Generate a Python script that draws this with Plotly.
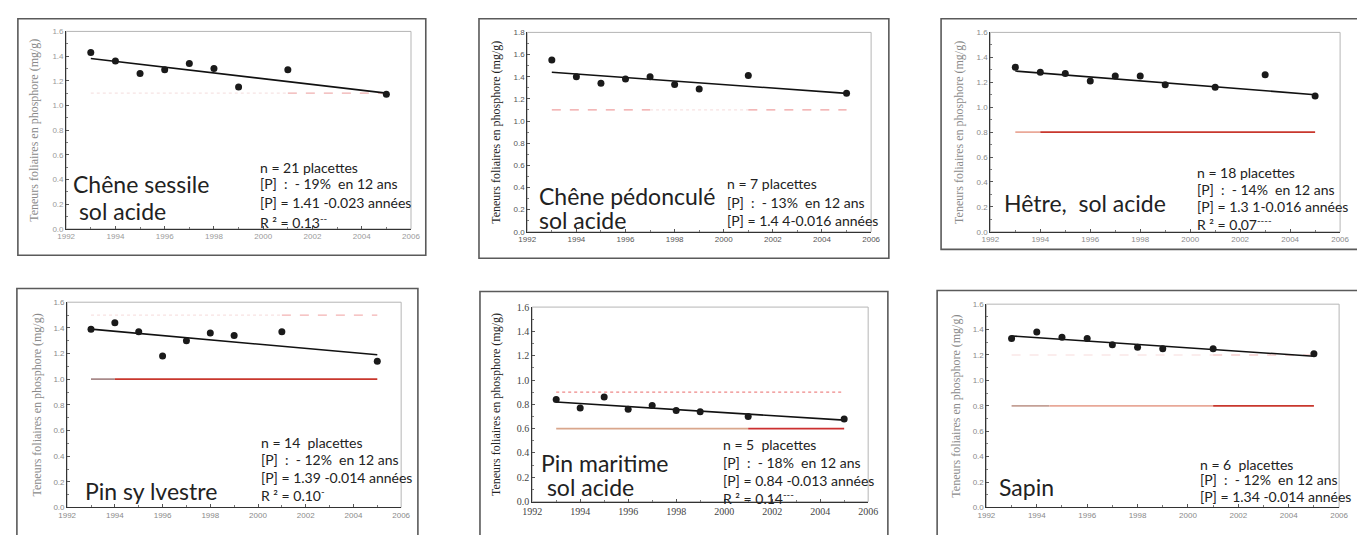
import plotly.graph_objects as go

W, H = 1357, 535

# ---------------- data ----------------
years = [1993, 1994, 1995, 1996, 1997, 1998, 1999, 2001, 2005]
years_hetre = [1993, 1994, 1995, 1996, 1997, 1998, 1999, 2001, 2003, 2005]

p_chene_sessile = [1.43, 1.36, 1.26, 1.29, 1.34, 1.30, 1.15, 1.29, 1.09]
p_chene_pedoncule = [1.55, 1.40, 1.34, 1.38, 1.40, 1.33, 1.29, 1.41, 1.25]
p_hetre = [1.32, 1.28, 1.27, 1.21, 1.25, 1.25, 1.18, 1.16, 1.26, 1.09]
p_pin_sylvestre = [1.39, 1.44, 1.37, 1.18, 1.30, 1.36, 1.34, 1.37, 1.14]
p_pin_maritime = [0.84, 0.77, 0.86, 0.76, 0.79, 0.75, 0.74, 0.70, 0.68]
p_sapin = [1.33, 1.38, 1.34, 1.33, 1.28, 1.26, 1.25, 1.25, 1.21]

trend_years = [1993, 2005]
trend_chene_sessile = [1.38, 1.10]
trend_chene_pedoncule = [1.44, 1.25]
trend_hetre = [1.29, 1.10]
trend_pin_sylvestre = [1.39, 1.19]
trend_pin_maritime = [0.82, 0.67]
trend_sapin = [1.35, 1.19]

# reference thresholds (upper / lower) per panel
ref_upper = [1.1, 1.1, None, 1.5, 0.9, 1.2]
ref_lower = [None, None, 0.8, 1.0, 0.6, 0.8]
y_max = [1.6, 1.8, 1.6, 1.6, 1.6, 1.6]

titles = [["Chêne sessile", " sol acide"], ["Chêne pédonculé", "sol acide"],
          ["Hêtre,  sol acide"], ["Pin sy lvestre"], ["Pin maritime", " sol acide"], ["Sapin"]]
stats = [
    ["n = 21 placettes", "[P]  :  - 19%  en 12 ans", "[P] = 1.41 -0.023 années", "R ² = 0.13<sup>--</sup>"],
    ["n = 7 placettes", "[P]  :  - 13%  en 12 ans", "[P] = 1.4 4-0.016 années"],
    ["n = 18 placettes", "[P]  :  - 14%  en 12 ans", "[P] = 1.3 1-0.016 années", "R ² = 0.07<sup>----</sup>"],
    ["n = 14  placettes", "[P]  :  - 12%  en 12 ans", "[P] = 1.39 -0.014 années", "R ² = 0.10<sup>-</sup>"],
    ["n = 5  placettes", "[P]  :  - 18%  en 12 ans", "[P] = 0.84 -0.013 années", "R ² = 0.14<sup>---</sup>"],
    ["n = 6  placettes", "[P]  :  - 12%  en 12 ans", "[P] = 1.34 -0.014 années"],
]
ylabel = "Teneurs foliaires en phosphore (mg/g)"

# ---------------- layout geometry (pixels) ----------------
panels = [
    dict(x=years, y=p_chene_sessile, t=trend_chene_sessile, plot=(57, 407, 26, 228), box=(8, 422, 13, 255),
         ylab_x=25, title_xy=(62, [182, 210]), stats_xy=(252, [165, 182, 201, 220]),
         up=[(1993, 2001, '#f6e4e4', 'dot'), (2001, 2005, '#efb0b0', 'dash')], lo=[],
         tc='#9a9a9a', lc='#8a8a8a', tfont='Liberation Sans'),
    dict(x=years, y=p_chene_pedoncule, t=trend_chene_pedoncule, plot=(525, 874, 27, 231), box=(476, 892, 13, 258),
         ylab_x=493, title_xy=(535, [194, 219]), stats_xy=(726, [182, 201, 219]),
         up=[(1993, 1997, '#f0a0a0', 'dash'), (1997, 2001, '#f7e2e2', 'dot'), (2001, 2005, '#f0a0a0', 'dash')], lo=[],
         tc='#555555', lc='#222222', tfont='Liberation Sans'),
    dict(x=years_hetre, y=p_hetre, t=trend_hetre, plot=(995, 1350, 27, 231), box=(945, 1370, 13, 249),
         ylab_x=963, title_xy=(1007, [202]), stats_xy=(1203, [170, 188, 205, 222]),
         up=[], lo=[(1993, 1994, '#eaa898', 'solid'), (1994, 2005, '#c8372d', 'solid')],
         tc='#8a8a8a', lc='#8a8a8a', tfont='Liberation Sans'),
    dict(x=years, y=p_pin_sylvestre, t=trend_pin_sylvestre, plot=(58, 397, 303, 513), box=(7, 414, 289, 545),
         ylab_x=27, title_xy=(74, [496]), stats_xy=(253, [447, 464, 482, 500]),
         up=[(1993, 2001, '#f8e2e2', 'dot'), (2001, 2005, '#f3b3b3', 'dash')],
         lo=[(1993, 1994, '#a88a8a', 'solid'), (1994, 2005, '#c8372d', 'solid')],
         tc='#8a8a8a', lc='#8a8a8a', tfont='Liberation Sans'),
    dict(x=years, y=p_pin_maritime, t=trend_pin_maritime, plot=(530, 871, 308, 507), box=(477, 891, 292, 545),
         ylab_x=494, title_xy=(537, [467, 492]), stats_xy=(722, [449, 467, 485, 503]),
         up=[(1993, 2005, '#ee8888', 'dot')],
         lo=[(1993, 2001, '#d9a68c', 'solid'), (2001, 2005, '#cc3030', 'solid')],
         tc='#444444', lc='#222222', tfont='Liberation Serif'),
    dict(x=years, y=p_sapin, t=trend_sapin, plot=(991, 1349, 305, 513), box=(941, 1370, 291, 545),
         ylab_x=960, title_xy=(1002, [492]), stats_xy=(1206, [469, 484, 502]),
         up=[(1993, 2001, '#f7dcdc', 'dash'), (2001, 2005, '#f0b5b5', 'dash')],
         lo=[(1993, 1994.5, '#c4a096', 'solid'), (1994.5, 2001, '#e8a898', 'solid'), (2001, 2005, '#c8372d', 'solid')],
         tc='#8a8a8a', lc='#8a8a8a', tfont='Liberation Sans'),
]


def px(x):
    return x / W


def py(y):
    return 1 - y / H


fig = go.Figure()
layout = dict(width=W, height=H, margin=dict(l=0, r=0, t=0, b=0),
              paper_bgcolor='white', plot_bgcolor='white', showlegend=False)
shapes = []
annotations = []

for i, p in enumerate(panels):
    k = i + 1
    xa = 'x' if k == 1 else f'x{k}'
    ya = 'y' if k == 1 else f'y{k}'
    x0, x1, y0, y1 = p['plot']

    # reference lines
    for level, segs in ((ref_upper[i], p['up']), (ref_lower[i], p['lo'])):
        if level is None:
            continue
        for (a, b, col, dash) in segs:
            fig.add_trace(go.Scatter(x=[a, b], y=[level, level], mode='lines', xaxis=xa, yaxis=ya,
                                     line=dict(color=col, width=1.7 if dash == 'solid' else 1.2, dash=dash),
                                     hoverinfo='skip'))
    # trend
    fig.add_trace(go.Scatter(x=trend_years, y=p['t'], mode='lines', xaxis=xa, yaxis=ya,
                             line=dict(color='#111111', width=1.6), hoverinfo='skip'))
    # points
    fig.add_trace(go.Scatter(x=p['x'], y=p['y'], mode='markers', xaxis=xa, yaxis=ya,
                             marker=dict(color='#1a1a1a', size=7)))

    tickfont = dict(family=p['tfont'], size=8 if p['tfont'] != 'Liberation Serif' else 10, color=p['tc'])
    layout['xaxis' if k == 1 else f'xaxis{k}'] = dict(
        domain=[px(x0), px(x1)], anchor=ya, range=[1992, 2006], tick0=1992, dtick=2,
        showgrid=False, zeroline=False, showline=True, linecolor='#333333', linewidth=1,
        ticks='inside', ticklen=3, tickcolor='#555555', tickfont=tickfont,
        minor=dict(ticks='inside', ticklen=2, dtick=1, tickcolor='#777777'), fixedrange=True)
    layout['yaxis' if k == 1 else f'yaxis{k}'] = dict(
        domain=[py(y1), py(y0)], anchor=xa, range=[0, y_max[i]], tick0=0, dtick=0.2, tickformat='.1f',
        showgrid=False, zeroline=False, showline=True, linecolor='#333333', linewidth=1,
        ticks='inside', ticklen=3, tickcolor='#555555', tickfont=tickfont,
        minor=dict(ticks='inside', ticklen=2, dtick=0.1, tickcolor='#777777'), fixedrange=True)

    # light frame on top/right of plot area
    shapes.append(dict(type='rect', xref=f'{xa} domain', yref=f'{ya} domain', x0=0, x1=1, y0=0, y1=1,
                       line=dict(color='#b5b5b5', width=1), layer='below'))
    # outer box
    bx0, bx1, by0, by1 = p['box']
    shapes.append(dict(type='rect', xref='paper', yref='paper', x0=px(bx0), x1=px(bx1), y0=py(by1), y1=py(by0),
                       line=dict(color='#5a5a5a', width=1.6)))

    # y label
    annotations.append(dict(text=ylabel, xref='paper', yref='paper', x=px(p['ylab_x']), y=py((y0 + y1) / 2),
                            textangle=-90, showarrow=False, xanchor='center', yanchor='middle',
                            font=dict(family='Liberation Serif', size=12, color=p['lc'])))
    # title lines
    tx, tys = p['title_xy']
    for line, ty in zip(titles[i], tys):
        annotations.append(dict(text=line, xref='paper', yref='paper', x=px(tx), y=py(ty), showarrow=False,
                                xanchor='left', yanchor='middle',
                                font=dict(family='Lato', size=23, color='#222222')))
    sx, sys_ = p['stats_xy']
    for line, sy in zip(stats[i], sys_):
        annotations.append(dict(text=line, xref='paper', yref='paper', x=px(sx), y=py(sy), showarrow=False,
                                xanchor='left', yanchor='middle',
                                font=dict(family='Lato', size=14, color='#222222')))

layout['shapes'] = shapes
layout['annotations'] = annotations
fig.update_layout(**layout)
fig.write_html('out.html', config={'displayModeBar': False},
               post_script="document.body.style.margin='0';document.body.style.overflow='hidden';")
